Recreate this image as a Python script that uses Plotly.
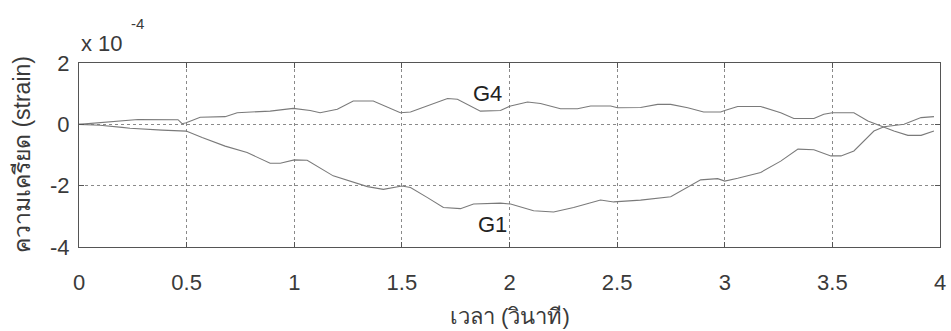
import plotly.graph_objects as go

# Time (s) and strain (x 10^-4) for gauge G1
g1_time = [0.0, 0.098, 0.2, 0.237, 0.386, 0.498, 0.572, 0.679, 0.781, 0.888,
           0.935, 1.0, 1.06, 1.12, 1.181, 1.34, 1.414, 1.5, 1.54, 1.619,
           1.693, 1.772, 1.833, 1.958, 2.005, 2.112, 2.205, 2.298, 2.423, 2.484,
           2.609, 2.749, 2.828, 2.888, 2.967, 3.0, 3.06, 3.167, 3.26, 3.34,
           3.414, 3.493, 3.54, 3.6, 3.693, 3.74, 3.833, 3.912, 3.972]
g1_strain = [0.0, -0.03, -0.1, -0.13, -0.19, -0.22, -0.43, -0.71, -0.92, -1.27,
             -1.27, -1.16, -1.17, -1.42, -1.68, -2.03, -2.12, -2.01, -2.06, -2.39,
             -2.71, -2.75, -2.6, -2.57, -2.6, -2.82, -2.86, -2.71, -2.47, -2.53,
             -2.47, -2.36, -2.06, -1.81, -1.77, -1.85, -1.76, -1.57, -1.2, -0.81,
             -0.83, -1.03, -1.03, -0.87, -0.22, -0.08, 0.0, 0.22, 0.25]

# Time (s) and strain (x 10^-4) for gauge G4
g4_time = [0.0, 0.107, 0.274, 0.46, 0.479, 0.498, 0.563, 0.679, 0.735, 0.888,
           0.995, 1.074, 1.12, 1.2, 1.274, 1.367, 1.493, 1.54, 1.712, 1.758,
           1.865, 1.958, 2.005, 2.084, 2.144, 2.237, 2.316, 2.377, 2.47, 2.502,
           2.609, 2.688, 2.749, 2.828, 2.902, 2.981, 3.0, 3.06, 3.167, 3.26,
           3.321, 3.414, 3.46, 3.5, 3.6, 3.665, 3.74, 3.786, 3.851, 3.912, 3.972]
g4_strain = [0.0, 0.06, 0.16, 0.15, 0.02, 0.05, 0.23, 0.25, 0.38, 0.43,
             0.52, 0.45, 0.38, 0.49, 0.76, 0.76, 0.38, 0.4, 0.84, 0.82,
             0.43, 0.45, 0.6, 0.73, 0.68, 0.51, 0.51, 0.6, 0.6, 0.54,
             0.55, 0.65, 0.65, 0.54, 0.4, 0.4, 0.45, 0.58, 0.58, 0.38,
             0.19, 0.19, 0.33, 0.38, 0.38, 0.11, -0.11, -0.22, -0.36, -0.36, -0.22]

x_ticks = [0, 0.5, 1, 1.5, 2, 2.5, 3, 3.5, 4]
x_tick_text = ["0", "0.5", "1", "1.5", "2", "2.5", "3", "3.5", "4"]
y_ticks = [-4, -2, 0, 2]
y_tick_text = ["-4", "-2", "0", "2"]

FONT = "Liberation Sans, Arial, Noto Sans, sans-serif"
TEXT = "#3a3a3a"
LINE = "#7a7a7a"
AXIS = "#555555"
GRID = "#8a8a8a"

fig = go.Figure()
fig.add_trace(go.Scatter(x=g4_time, y=g4_strain, mode="lines", name="G4",
                         line=dict(color=LINE, width=1.1)))
fig.add_trace(go.Scatter(x=g1_time, y=g1_strain, mode="lines", name="G1",
                         line=dict(color=LINE, width=1.1)))

axis_common = dict(
    showgrid=True, gridcolor=GRID, griddash="dot", gridwidth=1,
    zeroline=False, showline=True, linecolor=AXIS, linewidth=1, mirror="ticks",
    ticks="inside", ticklen=5, tickcolor=AXIS, automargin=False,
    tickfont=dict(family=FONT, size=22, color=TEXT),
)

fig.update_xaxes(range=[0, 4], tickvals=x_ticks, ticktext=x_tick_text,
                 ticklabelstandoff=16, **axis_common)
fig.update_yaxes(range=[-4, 2], tickvals=y_ticks, ticktext=y_tick_text,
                 ticklabelstandoff=4, **axis_common)

# Axis titles, placed in the margins
fig.add_annotation(xref="paper", yref="paper", x=0.5, y=0, yshift=-69,
                   xanchor="center", yanchor="middle", showarrow=False,
                   text="เวลา (วินาที)",
                   font=dict(family=FONT, size=22, color=TEXT))
fig.add_annotation(xref="paper", yref="paper", x=0, y=0.5, xshift=-57,
                   xanchor="center", yanchor="middle", showarrow=False,
                   textangle=-90, text="ความเครียด (strain)",
                   font=dict(family=FONT, size=23, color=TEXT))

# Exponent multiplier above the y axis
fig.add_annotation(xref="paper", yref="paper", x=0.0, y=1.0, xanchor="left",
                   yanchor="bottom", yshift=5, showarrow=False,
                   text="x 10", font=dict(family=FONT, size=22, color=TEXT))
fig.add_annotation(xref="paper", yref="paper", x=0.0, y=1.0, xanchor="left",
                   yanchor="bottom", xshift=50, yshift=29, showarrow=False,
                   text="-4", font=dict(family=FONT, size=15, color=TEXT))

# Curve labels
fig.add_annotation(x=1.9, y=1.0, text="G4", showarrow=False,
                   font=dict(family=FONT, size=22, color="#222222"))
fig.add_annotation(x=1.92, y=-3.25, text="G1", showarrow=False,
                   font=dict(family=FONT, size=22, color="#222222"))

fig.update_layout(
    width=951, height=331,
    margin=dict(l=79, r=11, t=63, b=84),
    paper_bgcolor="white", plot_bgcolor="white",
    showlegend=False,
)

fig.write_html("out.html")
